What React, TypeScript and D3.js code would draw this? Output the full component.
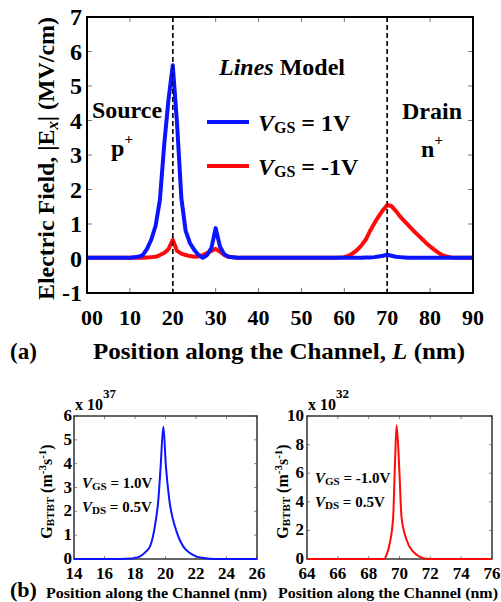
import React from "react";
import * as d3 from "d3";

// ---------- Data (a): electric field along the channel ----------
const posA = [0, 5, 10, 12, 13, 14, 15, 16, 17, 18, 19, 20, 21, 22, 23, 24, 25, 26, 27, 28, 29, 30, 31, 32, 33, 35, 40, 50, 58, 60, 61, 62, 63, 64, 65, 66, 67, 68, 69, 70, 71, 72, 73, 74, 75, 76, 77, 78, 79, 80, 81, 82, 83, 84, 85, 88, 90];
const fieldVgsPos = [0.02, 0.02, 0.02, 0.05, 0.1, 0.28, 0.55, 0.95, 1.7, 3.3, 4.6, 5.6, 3.9, 1.75, 0.8, 0.45, 0.25, 0.1, 0.02, 0.1, 0.3, 0.88, 0.35, 0.12, 0.05, 0.02, 0.02, 0.02, 0.02, 0.02, 0.02, 0.02, 0.02, 0.02, 0.03, 0.03, 0.04, 0.06, 0.08, 0.11, 0.08, 0.05, 0.04, 0.03, 0.02, 0.02, 0.02, 0.02, 0.02, 0.02, 0.02, 0.02, 0.02, 0.02, 0.02, 0.02, 0.02];
const fieldVgsNeg = [0.02, 0.02, 0.02, 0.02, 0.02, 0.03, 0.04, 0.05, 0.1, 0.16, 0.27, 0.54, 0.22, 0.14, 0.1, 0.07, 0.05, 0.06, 0.1, 0.16, 0.22, 0.28, 0.2, 0.1, 0.05, 0.02, 0.02, 0.02, 0.02, 0.04, 0.08, 0.15, 0.25, 0.38, 0.55, 0.8, 1.02, 1.22, 1.4, 1.55, 1.52, 1.38, 1.22, 1.08, 0.95, 0.82, 0.7, 0.58, 0.46, 0.35, 0.25, 0.16, 0.09, 0.05, 0.03, 0.02, 0.02];
const xTicksA = [0, 10, 20, 30, 40, 50, 60, 70, 80, 90];
const xTickLabelsA = ["00", "10", "20", "30", "40", "50", "60", "70", "80", "90"];
const yTicksA = [-1, 0, 1, 2, 3, 4, 5, 6, 7];
const junctionsA = [20, 70];

// ---------- Data (b): BTBT generation rate ----------
const posB1 = [14, 17, 17.8, 18.3, 18.7, 19.0, 19.3, 19.53, 19.68, 19.86, 20.03, 20.25, 20.62, 20.9, 21.17, 21.6, 22.05, 22.6, 23.2, 26];
const gbtbtPos = [0, 0, 0.02, 0.1, 0.3, 0.55, 1.36, 2.48, 3.87, 5.55, 3.87, 2.48, 1.36, 0.85, 0.52, 0.25, 0.1, 0.03, 0, 0];
const xTicksB1 = [14, 16, 18, 20, 22, 24, 26];
const yTicksB1 = [0, 1, 2, 3, 4, 5, 6];

const posB2 = [64, 69, 69.16, 69.37, 69.59, 69.7, 69.81, 69.98, 70.13, 70.46, 70.89, 71.32, 71.6, 72, 76];
const gbtbtNeg = [0, 0, 0.28, 1.1, 2.95, 6.44, 9.35, 6.44, 2.95, 1.33, 0.51, 0.16, 0.03, 0, 0];
const xTicksB2 = [64, 66, 68, 70, 72, 74, 76];
const yTicksB2 = [0, 2, 4, 6, 8, 10];

const FONT = "'Liberation Serif', 'Times New Roman', serif";
const BLUE = "#0a14ff";
const RED = "#ff0a0a";

function ChartA() {
  const L = 87, R = 473, T = 17, B = 293;
  const x = d3.scaleLinear().domain([0, 90]).range([L, R]);
  const y = d3.scaleLinear().domain([-1, 7]).range([B, T]);
  const line = d3.line<number>().x((_, i) => x(posA[i])).y((d) => y(d));
  return (
    <g fontFamily={FONT} fontWeight="bold">
      {xTicksA.map((t) => (
        <g key={"xt" + t}>
          <line x1={x(t)} x2={x(t)} y1={B} y2={B - 5} stroke="#777" />
          <line x1={x(t)} x2={x(t)} y1={T} y2={T + 5} stroke="#777" />
        </g>
      ))}
      {yTicksA.map((t) => (
        <g key={"yt" + t}>
          <line x1={L} x2={L + 5} y1={y(t)} y2={y(t)} stroke="#777" />
          <line x1={R} x2={R - 5} y1={y(t)} y2={y(t)} stroke="#777" />
        </g>
      ))}
      {junctionsA.map((j) => (
        <line key={"j" + j} x1={x(j)} x2={x(j)} y1={T} y2={B} stroke="#000" strokeWidth={1.5} strokeDasharray="5,3" />
      ))}
      <path d={line(fieldVgsNeg) || ""} fill="none" stroke={RED} strokeWidth={4} strokeLinejoin="round" />
      <path d={line(fieldVgsPos) || ""} fill="none" stroke={BLUE} strokeWidth={4} strokeLinejoin="round" />
      {junctionsA.map((j) => (
        <line key={"j2" + j} x1={x(j)} x2={x(j)} y1={T} y2={B} stroke="#000" strokeWidth={1.2} strokeDasharray="5,3" opacity={0.6} />
      ))}
      <rect x={L} y={T} width={R - L} height={B - T} fill="none" stroke="#000" strokeWidth={2} />
      {xTicksA.map((t, i) => (
        <text key={"xl" + t} x={x(t) + (i === 0 ? 5 : 0)} y={325} fontSize={22} textAnchor="middle">{xTickLabelsA[i]}</text>
      ))}
      {yTicksA.map((t) => (
        <text key={"yl" + t} x={82} y={y(t) + 8} fontSize={24} textAnchor="end">{t}</text>
      ))}
      <text x={93} y={359} fontSize={23} textLength={372} lengthAdjust="spacingAndGlyphs">
        Position along the Channel, <tspan fontStyle="italic">L</tspan> (nm)
      </text>
      <text x={10} y={359} fontSize={23}>(a)</text>
      <text transform={`translate(54,300) rotate(-90)`} fontSize={23} textLength={283} lengthAdjust="spacingAndGlyphs">
        Electric Field, |E<tspan fontStyle="italic" fontSize={16} dy={4}>x</tspan><tspan dy={-4}>| (MV/cm)</tspan>
      </text>
      <text x={282} y={75} fontSize={24} textAnchor="middle">
        <tspan fontStyle="italic">Lines</tspan> Model
      </text>
      <text x={127} y={118} fontSize={24} textAnchor="middle">Source</text>
      <text x={122} y={156} fontSize={24} textAnchor="middle">p<tspan fontSize={15} dy={-12}>+</tspan></text>
      <text x={432} y={119} fontSize={24} textAnchor="middle">Drain</text>
      <text x={432} y={157} fontSize={24} textAnchor="middle">n<tspan fontSize={15} dy={-12}>+</tspan></text>
      <line x1={207} x2={249} y1={122} y2={122} stroke={BLUE} strokeWidth={4} />
      <line x1={207} x2={249} y1={166} y2={166} stroke={RED} strokeWidth={4} />
      <text x={258} y={131} fontSize={24}>
        <tspan fontStyle="italic">V</tspan><tspan fontSize={16} dy={2}>GS</tspan><tspan dy={-2}> = 1V</tspan>
      </text>
      <text x={258} y={175} fontSize={24}>
        <tspan fontStyle="italic">V</tspan><tspan fontSize={16} dy={2}>GS</tspan><tspan dy={-2}> = -1V</tspan>
      </text>
    </g>
  );
}

type BProps = {
  L: number; R: number; T: number; B: number;
  xd: [number, number]; yd: [number, number];
  xs: number[]; ys: number[]; xt: number[]; yt: number[];
  color: string; exp: string; vgs: string; labelX: number; labelY: number;
  yLabelX: number; tickLabelX: number;
};

function ChartB(p: BProps) {
  const x = d3.scaleLinear().domain(p.xd).range([p.L, p.R]);
  const y = d3.scaleLinear().domain(p.yd).range([p.B, p.T]);
  const line = d3.line<number>().x((_, i) => x(p.xs[i])).y((d) => y(d)).curve(d3.curveMonotoneX);
  return (
    <g fontFamily={FONT} fontWeight="bold">
      {p.xt.map((t) => (
        <g key={"xt" + t}>
          <line x1={x(t)} x2={x(t)} y1={p.B} y2={p.B - 3} stroke="#888" />
          <line x1={x(t)} x2={x(t)} y1={p.T} y2={p.T + 3} stroke="#888" />
        </g>
      ))}
      {p.yt.map((t) => (
        <g key={"yt" + t}>
          <line x1={p.L} x2={p.L + 3} y1={y(t)} y2={y(t)} stroke="#888" />
          <line x1={p.R} x2={p.R - 3} y1={y(t)} y2={y(t)} stroke="#888" />
        </g>
      ))}
      <rect x={p.L} y={p.T} width={p.R - p.L} height={p.B - p.T} fill="none" stroke="#333" strokeWidth={1.5} />
      <path d={line(p.ys) || ""} fill="none" stroke={p.color} strokeWidth={2} />
      {p.xt.map((t) => (
        <text key={"xl" + t} x={x(t)} y={579} fontSize={17} textAnchor="middle">{t}</text>
      ))}
      {p.yt.map((t) => (
        <text key={"yl" + t} x={p.tickLabelX} y={y(t) + 5} fontSize={17} textAnchor="end">{t}</text>
      ))}
      <text x={p.L + 1} y={410} fontSize={16}>
        x 10<tspan fontSize={13} dy={-12}>{p.exp}</tspan>
      </text>
      <text transform={`translate(${p.yLabelX},${(p.T + p.B) / 2 + 4}) rotate(-90)`} fontSize={16} textAnchor="middle">
        G<tspan fontSize={11} dy={2}>BTBT</tspan><tspan dy={-2}> (m</tspan><tspan fontSize={11} dy={-6}>-3</tspan><tspan dy={6}>s</tspan><tspan fontSize={11} dy={-6}>-1</tspan><tspan dy={6}>)</tspan>
      </text>
      <text x={p.labelX} y={p.labelY} fontSize={15}>
        <tspan fontStyle="italic">V</tspan><tspan fontSize={11} dy={2}>GS</tspan><tspan dy={-2}>{" = " + p.vgs}</tspan>
      </text>
      <text x={p.labelX} y={p.labelY + 24} fontSize={15}>
        <tspan fontStyle="italic">V</tspan><tspan fontSize={11} dy={2}>DS</tspan><tspan dy={-2}> = 0.5V</tspan>
      </text>
    </g>
  );
}

export default function App() {
  return (
    <svg width={501} height={602} style={{ position: "absolute", left: 0, top: 0, background: "#fff" }}>
      <rect width={501} height={602} fill="#fff" />
      <ChartA />
      <ChartB L={74} R={257} T={416} B={559} xd={[14, 26]} yd={[0, 6]} xs={posB1} ys={gbtbtPos} xt={xTicksB1} yt={yTicksB1}
        color={BLUE} exp="37" vgs="1.0V" labelX={82} labelY={488} yLabelX={52} tickLabelX={72} />
      <ChartB L={307} R={492} T={416} B={559} xd={[64, 76]} yd={[0, 10]} xs={posB2} ys={gbtbtNeg} xt={xTicksB2} yt={yTicksB2}
        color={RED} exp="32" vgs="-1.0V" labelX={315} labelY={483} yLabelX={288} tickLabelX={304} />
      <text x={10} y={597} fontFamily={FONT} fontWeight="bold" fontSize={22}>(b)</text>
      <text x={46} y={598} fontFamily={FONT} fontWeight="bold" fontSize={15.5} textLength={221} lengthAdjust="spacingAndGlyphs">Position along the Channel (nm)</text>
      <text x={278} y={598} fontFamily={FONT} fontWeight="bold" fontSize={15.5} textLength={220} lengthAdjust="spacingAndGlyphs">Position along the Channel (nm)</text>
    </svg>
  );
}
